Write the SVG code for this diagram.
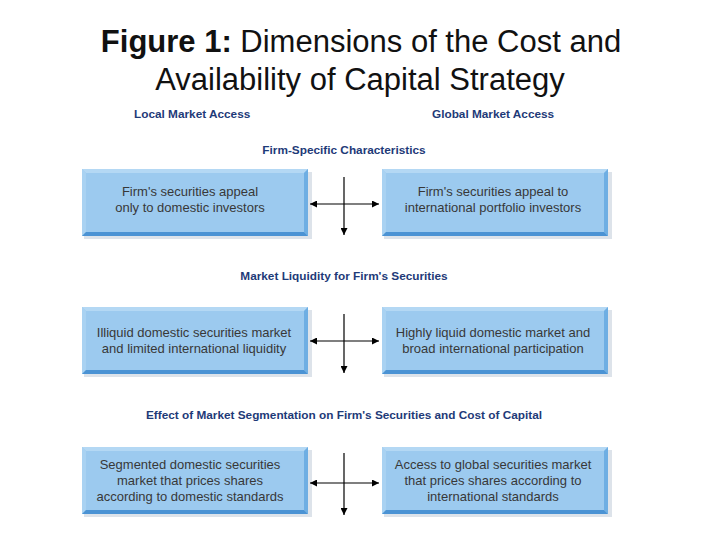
<svg xmlns="http://www.w3.org/2000/svg" xmlns:xlink="http://www.w3.org/1999/xlink" width="720" height="540" viewBox="0 0 720 540">
<style>
.title{font-family:"Liberation Sans",Arial,sans-serif;font-size:31px;fill:#111;text-anchor:middle}
.hdr{font-family:"Liberation Sans",Arial,sans-serif;font-size:11.8px;font-weight:bold;fill:#1e3a78}
.txt{font-family:"Liberation Sans",Arial,sans-serif;font-size:13px;fill:#383838;text-anchor:middle}
.ln{stroke:#000;stroke-width:1.2;fill:none}
</style>
<defs>
<marker id="ah" viewBox="0 0 10 10" refX="10" refY="5" markerWidth="7" markerHeight="7" markerUnits="userSpaceOnUse" orient="auto">
<path d="M0,0 L10,5 L0,10 Z" fill="#000"/>
</marker>
<g id="box">
<rect x="2" y="3" width="228" height="67" fill="#dde3ea"/>
<rect x="0" y="0" width="226" height="67" fill="#9ccaef"/>
<polygon points="0,0 226,0 222,4 4,4" fill="#b4d8f4"/>
<polygon points="0,0 4,4 4,63 0,67" fill="#a9d2f2"/>
<polygon points="226,0 226,67 222,63 222,4" fill="#6eaee3"/>
<polygon points="0,67 226,67 222,63 4,63" fill="#4b93d4"/>
</g>
</defs>
<rect width="720" height="540" fill="#fff"/>
<g id="title">
<text class="title" x="361" y="52"><tspan font-weight="bold">Figure 1:</tspan>  Dimensions of the Cost and</text>
<text class="title" x="360" y="90">Availability of Capital Strategy</text>
</g>
<g id="headers">
<text class="hdr" x="134" y="118">Local Market Access</text>
<text class="hdr" x="432" y="118">Global Market Access</text>
<text class="hdr" x="344" y="154" text-anchor="middle">Firm-Specific Characteristics</text>
<text class="hdr" x="344" y="280" text-anchor="middle">Market Liquidity for Firm's Securities</text>
<text class="hdr" x="344" y="419" text-anchor="middle">Effect of Market Segmentation on Firm's Securities and Cost of Capital</text>
</g>
<g id="n1">
<use xlink:href="#box" x="82" y="169"/>
<text class="txt" x="190" y="196">Firm's securities appeal</text>
<text class="txt" x="190" y="212">only to domestic investors</text>
</g>
<g id="n2">
<use xlink:href="#box" x="382" y="169"/>
<text class="txt" x="493" y="196">Firm's securities appeal to</text>
<text class="txt" x="493" y="212">international portfolio investors</text>
</g>
<g id="n3">
<use xlink:href="#box" x="82" y="307"/>
<text class="txt" x="194" y="337">Illiquid domestic securities market</text>
<text class="txt" x="194" y="353">and limited international liquidity</text>
</g>
<g id="n4">
<use xlink:href="#box" x="382" y="307"/>
<text class="txt" x="493" y="337">Highly liquid domestic market and</text>
<text class="txt" x="493" y="353">broad international participation</text>
</g>
<g id="n5">
<use xlink:href="#box" x="82" y="447"/>
<text class="txt" x="190" y="469">Segmented domestic securities</text>
<text class="txt" x="190" y="485">market that prices shares</text>
<text class="txt" x="190" y="501">according to domestic standards</text>
</g>
<g id="n6">
<use xlink:href="#box" x="382" y="447"/>
<text class="txt" x="493" y="469">Access to global securities market</text>
<text class="txt" x="493" y="485">that prices shares according to</text>
<text class="txt" x="493" y="501">international standards</text>
</g>
<g id="connectors">
<line class="ln" x1="344" y1="204" x2="310" y2="204" marker-end="url(#ah)"/>
<line class="ln" x1="344" y1="204" x2="379" y2="204" marker-end="url(#ah)"/>
<line class="ln" x1="344" y1="177" x2="344" y2="235" marker-end="url(#ah)"/>
<line class="ln" x1="344" y1="341" x2="310" y2="341" marker-end="url(#ah)"/>
<line class="ln" x1="344" y1="341" x2="379" y2="341" marker-end="url(#ah)"/>
<line class="ln" x1="344" y1="314" x2="344" y2="373" marker-end="url(#ah)"/>
<line class="ln" x1="344" y1="483" x2="310" y2="483" marker-end="url(#ah)"/>
<line class="ln" x1="344" y1="483" x2="379" y2="483" marker-end="url(#ah)"/>
<line class="ln" x1="344" y1="453" x2="344" y2="515" marker-end="url(#ah)"/>
</g>
</svg>
